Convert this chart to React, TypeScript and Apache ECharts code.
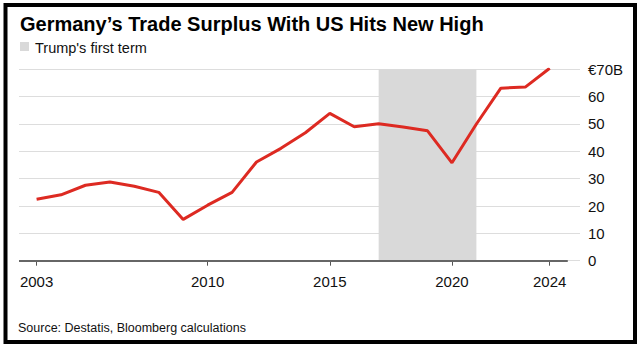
import React, { useEffect, useRef } from "react";
import * as echarts from "echarts";

const years = [2003, 2004, 2005, 2006, 2007, 2008, 2009, 2010, 2011, 2012, 2013, 2014, 2015, 2016, 2017, 2018, 2019, 2020, 2021, 2022, 2023, 2024];
const surplus = [22.5, 24.1, 27.6, 28.8, 27.2, 25.0, 15.1, 20.3, 25.0, 36.1, 41.1, 46.8, 53.9, 49.0, 50.1, 48.9, 47.5, 35.8, 50.0, 63.1, 63.5, 70.4];
const xTickYears = [2003, 2010, 2015, 2020, 2024];
const termStart = 2017;
const termEnd = 2021;
const titleText = "Germany\u2019s Trade Surplus With US Hits New High";
const legendText = "Trump's first term";
const sourceText = "Source: Destatis, Bloomberg calculations";

const FONT = "'Liberation Sans', Arial, Helvetica, sans-serif";

export default function App() {
  const ref = useRef<HTMLDivElement>(null);
  useEffect(() => {
    if (!ref.current) return;
    const chart = echarts.init(ref.current, null, { renderer: "svg" });
    const xMin = 2002.28;
    const xLineEnd = 2024.74;
    chart.setOption({
      animation: false,
      backgroundColor: "#ffffff",
      title: {
        text: titleText,
        left: 15,
        top: 9,
        textStyle: { fontFamily: FONT, fontSize: 20, fontWeight: "bold", color: "#000" },
      },
      grid: { left: 19, right: 63, top: 69.3, bottom: 90.3, containLabel: false },
      xAxis: {
        type: "value",
        min: xMin,
        max: 2025.24,
        axisLine: { show: false },
        splitLine: { show: false },
        axisTick: {
          show: true,
          customValues: xTickYears,
          length: 5,
          lineStyle: { color: "#555", width: 1 },
        },
        axisLabel: {
          customValues: xTickYears,
          margin: 13,
          fontFamily: FONT,
          fontSize: 15,
          color: "#111",
          formatter: (v: number) => String(Math.round(v)),
        },
      },
      yAxis: {
        type: "value",
        position: "right",
        min: 0,
        max: 70,
        interval: 10,
        axisLine: { show: false },
        axisTick: { show: false },
        splitLine: { show: true, lineStyle: { color: "#dddddd", width: 1 } },
        axisLabel: {
          margin: 8,
          fontFamily: FONT,
          fontSize: 15,
          color: "#111",
          formatter: (v: number) => (v === 70 ? "\u20ac70B" : String(v)),
        },
      },
      series: [
        {
          type: "line",
          data: years.map((y, i) => [y, surplus[i]]),
          symbol: "none",
          lineStyle: { color: "#dd2a22", width: 3 },
          z: 5,
          markArea: {
            silent: true,
            itemStyle: { color: "#d9d9d9" },
            data: [[{ xAxis: termStart }, { xAxis: termEnd }]],
          },
          markLine: {
            silent: true,
            symbol: "none",
            label: { show: false },
            lineStyle: { color: "#666", width: 2, type: "solid" },
            data: [[{ coord: [xMin, 0] }, { coord: [xLineEnd, 0] }]],
          },
        },
      ],
      graphic: [
        {
          type: "rect",
          shape: { x: 5.5, y: 5, width: 629.5, height: 337 },
          style: { fill: "none", stroke: "#000", lineWidth: 4 },
          z: 100,
        },
        {
          type: "rect",
          shape: { x: 20, y: 42, width: 9, height: 9 },
          style: { fill: "#d9d9d9" },
        },
        {
          type: "text",
          x: 35,
          y: 47.5,
          style: { text: legendText, font: `14.5px ${FONT}`, fill: "#111", textVerticalAlign: "middle" },
        },
        {
          type: "text",
          x: 18,
          y: 328,
          style: { text: sourceText, font: `12.5px ${FONT}`, fill: "#111", textVerticalAlign: "middle" },
        },
      ],
    });
    return () => chart.dispose();
  }, []);
  return <div ref={ref} style={{ position: "absolute", left: 0, top: 0, width: 643, height: 351 }} />;
}
